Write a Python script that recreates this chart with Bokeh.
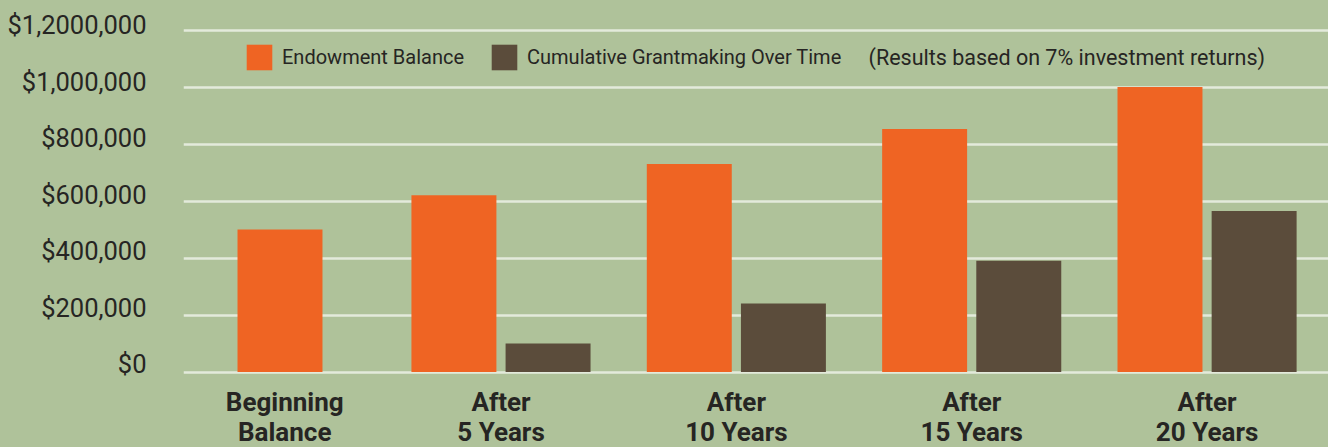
from bokeh.plotting import figure
from bokeh.models import (Range1d, FixedTicker, Legend, LegendItem, Label,
                          ColumnDataSource, GlobalInlineStyleSheet)
from bokeh.core.properties import value
from bokeh.embed import file_html
from bokeh.resources import INLINE

# ---------------- data ----------------
categories = ["Beginning\nBalance", "After\n5 Years", "After\n10 Years",
              "After\n15 Years", "After\n20 Years"]
endowment_balance = [500000, 620000, 730000, 853000, 1000000]
cumulative_grantmaking = [0, 100000, 240000, 390000, 565000]
series_names = ["Endowment Balance", "Cumulative Grantmaking Over Time"]
y_tick_values = [0, 200000, 400000, 600000, 800000, 1000000, 1200000]
y_tick_labels = ["$0", "$200,000", "$400,000", "$600,000", "$800,000",
                 "$1,000,000", "$1,2000,000"]
note_text = "(Results based on 7% investment returns)"

# ---------------- styling / layout ----------------
BG = "#AFC29A"
ORANGE = "#EF6423"
BROWN = "#5B4C3B"
GRID = "#E3EADB"
TXT = "#262523"
FONT = "Roboto"

slot = [0.061, 1, 2, 3, 4]          # group positions on the x axis
bar_w = 0.361
off = 0.2

e_x = [s - off if g > 0 else s for s, g in zip(slot, cumulative_grantmaking)]
g_idx = [i for i, g in enumerate(cumulative_grantmaking) if g > 0]

src_e = ColumnDataSource(dict(x=e_x, top=endowment_balance))
src_g = ColumnDataSource(dict(x=[slot[i] + off for i in g_idx],
                              top=[cumulative_grantmaking[i] for i in g_idx]))

px_per_unit = 285e-6
zero_px = 371.5
H, W = 447, 1328
y_start = -(H - zero_px) / px_per_unit
y_end = zero_px / px_per_unit

p = figure(width=W, height=H, output_backend="svg", toolbar_location=None,
           x_range=Range1d(-0.349, 4.516), y_range=Range1d(y_start, y_end),
           min_border_left=183, min_border_right=0, min_border_top=0,
           min_border_bottom=0)
p.background_fill_color = BG
p.border_fill_color = BG
p.outline_line_color = None

r_e = p.vbar(x="x", top="top", bottom=0, width=bar_w, source=src_e,
             fill_color=ORANGE, line_color=None)
r_g = p.vbar(x="x", top="top", bottom=0, width=bar_w, source=src_g,
             fill_color=BROWN, line_color=None)

# axes
p.xaxis.visible = False
p.xgrid.visible = False

label_ticks = [v * 0.99123 + 26316 for v in y_tick_values]
p.yaxis.ticker = FixedTicker(ticks=label_ticks)
p.yaxis.major_label_overrides = {t: lab for t, lab in zip(label_ticks, y_tick_labels)}
p.yaxis.axis_line_color = None
p.yaxis.major_tick_line_color = None
p.yaxis.minor_tick_line_color = None
p.yaxis.major_tick_out = 0
p.yaxis.major_tick_in = 0
p.yaxis.major_label_standoff = 37
p.yaxis.major_label_text_font = FONT
p.yaxis.major_label_text_font_size = "25.5px"
p.yaxis.major_label_text_color = TXT

p.ygrid.ticker = FixedTicker(ticks=y_tick_values)
p.ygrid.grid_line_color = GRID
p.ygrid.grid_line_width = 2.5

# category labels (two lines each)
line1 = [c.split("\n")[0] for c in categories]
line2 = [c.split("\n")[1] for c in categories]
lab_x = list(slot)
lab_x[0] = slot[0] + 0.02
p.text(x=lab_x, y=[-(401 - zero_px) / px_per_unit] * len(line1), text=line1,
       text_align="center", text_baseline="alphabetic",
       text_font=value(FONT), text_font_style="bold", text_font_size="26px",
       text_color=TXT)
p.text(x=lab_x, y=[-(431 - zero_px) / px_per_unit] * len(line2), text=line2,
       text_align="center", text_baseline="alphabetic",
       text_font=value(FONT), text_font_style="bold", text_font_size="26px",
       text_color=TXT)

# legend
legend = Legend(items=[LegendItem(label=series_names[0], renderers=[r_e]),
                       LegendItem(label=series_names[1], renderers=[r_g])],
                orientation="horizontal", location=(60, 374),
                glyph_width=32, glyph_height=32, label_standoff=7,
                label_height=32, spacing=24, padding=0, margin=0,
                label_text_font=FONT, label_text_font_size="20px",
                label_text_color=TXT, background_fill_alpha=0,
                border_line_color=None)
p.add_layout(legend)

note = Label(x=2.5616, y=(371.5 - 57) / px_per_unit, text=note_text,
             text_baseline="middle",
             text_font=FONT, text_font_size="21.5px", text_color=TXT)
p.add_layout(note)

p.stylesheets = [GlobalInlineStyleSheet(css="body { background-color: %s; }" % BG)]

open("out.html", "w").write(file_html(p, INLINE))
